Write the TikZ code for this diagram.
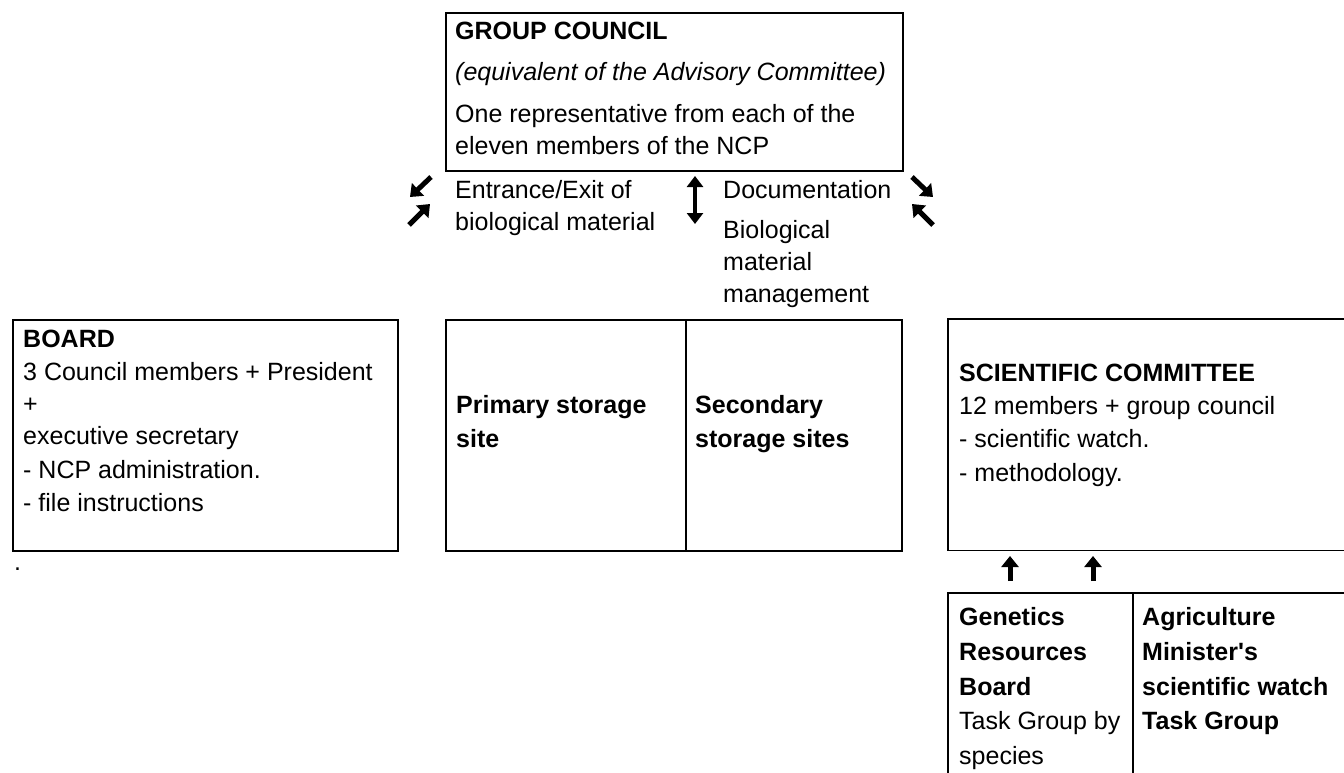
\documentclass[tikz,border=0pt]{standalone}
\usepackage{fontspec}
\setmainfont{Liberation Sans}
\usetikzlibrary{arrows.meta}
\begin{document}
\begin{tikzpicture}[x=1pt,y=-1pt,
  txt/.style={font=\fontsize{25}{30}\selectfont, inner sep=0pt, anchor=base west},
  btxt/.style={txt, font=\fontsize{25}{30}\selectfont\bfseries},
  itxt/.style={txt, font=\fontsize{25}{30}\selectfont\itshape},
  frame/.style={draw, line width=1.6pt, inner sep=0pt, anchor=north west},
  rule/.style={line width=1.6pt},
  heavy/.style={line width=5pt, -{Triangle[length=11pt,width=17pt]}},
  heavyboth/.style={line width=4.5pt, {Triangle[length=11pt,width=16pt]}-{Triangle[length=11pt,width=16pt]}}
]
\useasboundingbox (0,0) rectangle (1344,773);

% boxes
\node[frame, minimum width=457pt, minimum height=158pt] (gc) at (445,12) {};
\node[frame, minimum width=385pt, minimum height=231pt] (board) at (12,319) {};
\node[frame, minimum width=240pt, minimum height=231pt] (prim) at (445,319) {};
\node[frame, minimum width=216pt, minimum height=231pt] (sec) at (685,319) {};
\node[inner sep=0pt, anchor=north west, minimum width=396pt, minimum height=231pt] (sc) at (948,319) {};
\draw[rule] (sc.north east) -- (sc.north west) -- (sc.south west) -- (sc.south east);
\node[inner sep=0pt, anchor=north west, minimum width=185pt, minimum height=180pt] (grb) at (948,593) {};
\node[inner sep=0pt, anchor=north west, minimum width=211pt, minimum height=180pt] (amw) at (1133,593) {};
\draw[rule] (grb.south west) -- (grb.north west) -- (amw.north east);
\draw[rule] (amw.north west) -- (amw.south west);

% group council text
\node[btxt] (gc1) at (455,40) {GROUP COUNCIL};
\node[itxt] (gc2) at (455,81) {(equivalent of the Advisory Committee)};
\node[txt] (gc3) at (455,123) {One representative from each of the};
\node[txt] (gc4) at (455,155) {eleven members of the NCP};

\node[txt] (ee1) at (455,198) {Entrance/Exit of};
\node[txt] (ee2) at (455,230) {biological material};
\node[txt] (dc1) at (723,198) {Documentation};
\node[txt] (dc2) at (723,238) {Biological};
\node[txt] (dc3) at (723,270) {material};
\node[txt] (dc4) at (723,302) {management};

% board text
\node[btxt] (b1) at (23,347) {BOARD};
\node[txt] (b2) at (23,380) {3 Council members + President};
\node[txt] (b3) at (23,412) {+};
\node[txt] (b4) at (23,444) {executive secretary};
\node[txt] (b5) at (23,478) {- NCP administration.};
\node[txt] (b6) at (23,511) {- file instructions};
\node[txt] (dot) at (14,570) {.};

% storage
\node[btxt] (p1) at (456,413) {Primary storage};
\node[btxt] (p2) at (456,447) {site};
\node[btxt] (s1) at (695,413) {Secondary};
\node[btxt] (s2) at (695,447) {storage sites};

% scientific committee
\node[btxt] (sc1) at (959,381) {SCIENTIFIC COMMITTEE};
\node[txt] (sc2) at (959,414) {12 members + group council};
\node[txt] (sc3) at (959,447) {- scientific watch.};
\node[txt] (sc4) at (959,481) {- methodology.};

% bottom boxes
\node[btxt] (g1) at (959,625) {Genetics};
\node[btxt] (g2) at (959,660) {Resources};
\node[btxt] (g3) at (959,695) {Board};
\node[txt] (g4) at (959,729) {Task Group by};
\node[txt] (g5) at (959,764) {species};
\node[btxt] (a1) at (1142,625) {Agriculture};
\node[btxt] (a2) at (1142,660) {Minister\textquotesingle s};
\node[btxt] (a3) at (1142,695) {scientific watch};
\node[btxt] (a4) at (1142,729) {Task Group};

% arrows
\coordinate (l1s) at (431,177); \coordinate (l1e) at (410,197);
\coordinate (l2s) at (409,225); \coordinate (l2e) at (430,204);
\coordinate (r1s) at (912,177); \coordinate (r1e) at (933,197);
\coordinate (r2s) at (933,225); \coordinate (r2e) at (912,204);
\coordinate (vs) at (695,176); \coordinate (ve) at (695,224);
\coordinate (u1s) at (1010,581); \coordinate (u1e) at (1010,556);
\coordinate (u2s) at (1093,581); \coordinate (u2e) at (1093,556);
\draw[heavy] (l1s) -- (l1e);
\draw[heavy] (l2s) -- (l2e);
\draw[heavy] (r1s) -- (r1e);
\draw[heavy] (r2s) -- (r2e);
\draw[heavyboth] (vs) -- (ve);
\draw[heavy] (u1s) -- (u1e);
\draw[heavy] (u2s) -- (u2e);
\end{tikzpicture}
\end{document}
